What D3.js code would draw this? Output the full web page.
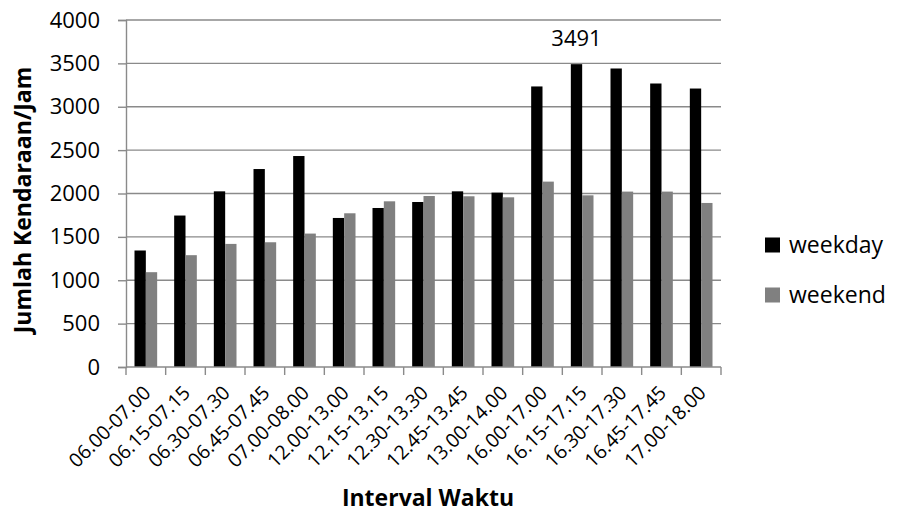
<!DOCTYPE html>
<html>
<head>
<meta charset="utf-8">
<script src="https://cdn.jsdelivr.net/npm/d3@7"></script>
<style>
  html, body { margin: 0; padding: 0; background: #fff; }
  svg { display: block; font-family: "Open Sans", "Noto Sans", sans-serif; }
</style>
</head>
<body>
<svg id="chart" width="898" height="513"></svg>
<script>
// Traffic volume per interval (vehicles per hour)
const intervals = [
  "06.00-07.00", "06.15-07.15", "06.30-07.30", "06.45-07.45", "07.00-08.00",
  "12.00-13.00", "12.15-13.15", "12.30-13.30", "12.45-13.45", "13.00-14.00",
  "16.00-17.00", "16.15-17.15", "16.30-17.30", "16.45-17.45", "17.00-18.00"
];
const weekday = [1343, 1746, 2025, 2282, 2432, 1718, 1833, 1902, 2025, 2010, 3234, 3491, 3441, 3268, 3210];
const weekend = [1093, 1289, 1419, 1438, 1538, 1772, 1910, 1971, 1968, 1956, 2137, 1979, 2022, 2022, 1891];
const seriesNames = ["weekday", "weekend"];
const seriesColors = ["#000000", "#808080"];
const yTicks = [0, 500, 1000, 1500, 2000, 2500, 3000, 3500, 4000];
const peakLabelIndex = 11;

const svg = d3.select("#chart");
const plot = { left: 126, right: 721, top: 20, bottom: 367 };

const x = d3.scaleBand()
  .domain(intervals)
  .range([plot.left, plot.right])
  .paddingInner(0)
  .paddingOuter(0);

// each category: gap of 1.5 bar widths split around the two bars
const barW = x.bandwidth() / 3.5;
const xSeries = d3.scaleBand()
  .domain(seriesNames)
  .range([0.75 * barW, 2.75 * barW]);

const y = d3.scaleLinear().domain([0, 4000]).range([plot.bottom, plot.top]);

const gridColor = "#8a8a8a";

// horizontal gridlines
svg.append("g")
  .selectAll("line")
  .data(yTicks.filter(d => d > 0))
  .join("line")
  .attr("x1", plot.left)
  .attr("x2", plot.right)
  .attr("y1", d => y(d))
  .attr("y2", d => y(d))
  .attr("stroke", gridColor)
  .attr("stroke-width", 1.4);

// bars
const rows = intervals.map((k, i) => ({ k, values: [weekday[i], weekend[i]] }));
svg.append("g")
  .selectAll("g")
  .data(rows)
  .join("g")
  .attr("transform", d => `translate(${x(d.k)},0)`)
  .selectAll("rect")
  .data(d => d.values.map((v, j) => ({ name: seriesNames[j], v, c: seriesColors[j] })))
  .join("rect")
  .attr("x", d => xSeries(d.name))
  .attr("width", xSeries.bandwidth())
  .attr("y", d => y(d.v))
  .attr("height", d => y(0) - y(d.v))
  .attr("fill", d => d.c);

// y axis
const yAxis = d3.axisLeft(y).tickValues(yTicks).tickSize(8).tickPadding(18).tickFormat(d3.format("d"));
const gy = svg.append("g").attr("transform", `translate(${plot.left},0)`).call(yAxis);
gy.select(".domain").attr("stroke", gridColor).attr("stroke-width", 1.4);
gy.selectAll(".tick line").attr("stroke", gridColor).attr("stroke-width", 1.4);
gy.selectAll(".tick text").attr("fill", "#000").style("font-size", "22px").style("font-family", "'Open Sans', sans-serif");

// x axis with ticks on category boundaries
const boundaries = intervals.map(k => x(k)).concat([plot.right]);
const gx = svg.append("g");
gx.append("line")
  .attr("x1", plot.left).attr("x2", plot.right)
  .attr("y1", plot.bottom).attr("y2", plot.bottom)
  .attr("stroke", gridColor).attr("stroke-width", 1.4);
gx.selectAll("line.tk")
  .data(boundaries)
  .join("line")
  .attr("class", "tk")
  .attr("x1", d => d).attr("x2", d => d)
  .attr("y1", plot.bottom).attr("y2", plot.bottom + 8)
  .attr("stroke", gridColor).attr("stroke-width", 1.4);

gx.selectAll("text")
  .data(intervals)
  .join("text")
  .attr("transform", d => `translate(${x(d) + x.bandwidth() / 2 + 6},${plot.bottom + 27}) rotate(-45)`)
  .attr("text-anchor", "end")
  .style("font-size", "19.5px")
  .text(d => d);

// value label on the peak bar
svg.append("text")
  .attr("x", x(intervals[peakLabelIndex]) + xSeries("weekday") + xSeries.bandwidth() / 2)
  .attr("y", y(weekday[peakLabelIndex]) - 18)
  .attr("text-anchor", "middle")
  .style("font-size", "22px")
  .text(weekday[peakLabelIndex]);

// axis titles
svg.append("text")
  .attr("transform", `translate(31,200) rotate(-90)`)
  .attr("text-anchor", "middle")
  .style("font-size", "23px")
  .style("font-weight", "bold")
  .text("Jumlah Kendaraan/Jam");

svg.append("text")
  .attr("x", 428)
  .attr("y", 506)
  .attr("text-anchor", "middle")
  .style("font-size", "23px")
  .style("font-weight", "bold")
  .text("Interval Waktu");

// legend
const legend = svg.append("g").attr("transform", "translate(765,237.5)");
const li = legend.selectAll("g")
  .data(seriesNames)
  .join("g")
  .attr("transform", (d, i) => `translate(0,${i * 50})`);
li.append("rect")
  .attr("width", 15).attr("height", 15)
  .attr("fill", (d, i) => seriesColors[i]);
li.append("text")
  .attr("x", 24).attr("y", 15.5)
  .style("font-size", "23px")
  .text(d => d);
</script>
</body>
</html>
